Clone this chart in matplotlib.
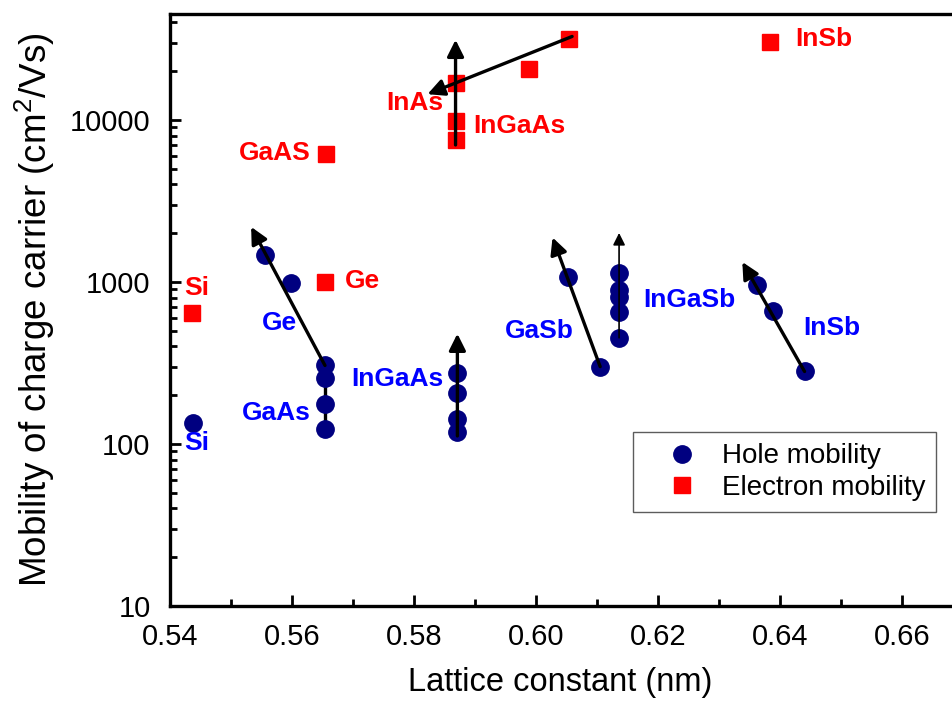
import matplotlib
matplotlib.use("Agg")
import matplotlib.pyplot as plt
from matplotlib.ticker import FixedLocator, LogLocator, FuncFormatter, NullFormatter

plt.rcParams['font.family'] = ['Liberation Sans', 'DejaVu Sans']
plt.rcParams['mathtext.fontset'] = 'custom'
plt.rcParams['mathtext.rm'] = 'Liberation Sans'
plt.rcParams['mathtext.it'] = 'Liberation Sans:italic'

# ---- data ----
hole_x = [0.5437, 0.5555, 0.5598, 0.5654, 0.5654, 0.5654, 0.5654,
          0.5871, 0.5871, 0.5871, 0.5871, 0.6052, 0.6105,
          0.6136, 0.6136, 0.6136, 0.6136, 0.6136, 0.6362, 0.6388, 0.6440]
hole_y = [135, 1475, 985, 305, 255, 177, 123,
          275, 207, 143, 119, 1072, 300,
          1142, 887, 803, 651, 452, 962, 661, 280]

elec_x = [0.5436, 0.5656, 0.5654, 0.5868, 0.5868, 0.5868, 0.5989, 0.6054, 0.6384]
elec_y = [640, 6150, 995, 17000, 9840, 7510, 20550, 31600, 30200]

# arrows: (tail_x, tail_y, head_x, head_y)
arrow_tail_x = [0.5654, 0.5871, 0.5868, 0.6059, 0.6105, 0.6440]
arrow_tail_y = [305, 112, 7000, 32700, 300, 280]
arrow_head_x = [0.5533, 0.5871, 0.5868, 0.5822, 0.6027, 0.6338]
arrow_head_y = [2185, 479, 31200, 14400, 1880, 1327]

thin_arrow_tail = (0.6136, 452)
thin_arrow_head = (0.6136, 2005)

gaas_line_x = [0.5654, 0.5654]
gaas_line_y = [120, 305]

elec_labels = ["Si", "GaAS", "Ge", "InAs", "InGaAs", "InSb"]
elec_label_x = [0.5444, 0.5572, 0.5715, 0.5802, 0.5972, 0.6472]
elec_label_y = [913, 6240, 1010, 12730, 9170, 31600]

hole_labels = ["Si", "Ge", "GaAs", "InGaAs", "GaSb", "InGaSb", "InSb"]
hole_label_x = [0.5444, 0.5579, 0.5574, 0.5772, 0.6005, 0.6251, 0.6485]
hole_label_y = [102, 554, 156, 250, 495, 769, 516]

x_ticks = [0.54, 0.56, 0.58, 0.60, 0.62, 0.64, 0.66]
y_ticks = [10, 100, 1000, 10000]

# ---- figure ----
fig = plt.figure(figsize=(9.53, 7.04), dpi=100)
ax = fig.add_axes([170/953, 1 - 606/704, 781/953, 592/704])

ax.set_yscale('log')
ax.set_xlim(0.54, 0.668)
ax.set_ylim(10, 45000)

ax.plot(gaas_line_x, gaas_line_y, color='black', lw=2.4, zorder=2)
for tx, ty, hx, hy in zip(arrow_tail_x, arrow_tail_y, arrow_head_x, arrow_head_y):
    ax.annotate('', xy=(hx, hy), xytext=(tx, ty),
                arrowprops=dict(arrowstyle='-|>', lw=2.4, color='black',
                                mutation_scale=25, shrinkA=0, shrinkB=0),
                zorder=3)
ax.annotate('', xy=thin_arrow_head, xytext=thin_arrow_tail,
            arrowprops=dict(arrowstyle='-|>', lw=1.2, color='black',
                            mutation_scale=18, shrinkA=0, shrinkB=0),
            zorder=3)

ax.plot(hole_x, hole_y, 'o', color='#000080', markersize=12.5, ls='none',
        label='Hole mobility', zorder=2)
ax.plot(elec_x, elec_y, 's', color='#ff0000', markersize=11.5, ls='none',
        label='Electron mobility', zorder=2)

for t, x, y in zip(elec_labels, elec_label_x, elec_label_y):
    ax.text(x, y, t, color='#ff0000', fontsize=19, fontweight='bold',
            ha='center', va='center', zorder=4)
for t, x, y in zip(hole_labels, hole_label_x, hole_label_y):
    ax.text(x, y, t, color='#0000ff', fontsize=19, fontweight='bold',
            ha='center', va='center', zorder=4)

ax.xaxis.set_major_locator(FixedLocator(x_ticks))
ax.xaxis.set_minor_locator(FixedLocator([0.55, 0.57, 0.59, 0.61, 0.63, 0.65, 0.67]))
ax.xaxis.set_major_formatter(FuncFormatter(lambda v, p: f"{v:.2f}"))
ax.yaxis.set_major_locator(FixedLocator(y_ticks))
ax.yaxis.set_minor_locator(LogLocator(base=10, subs=range(2, 10)))
ax.yaxis.set_major_formatter(FuncFormatter(lambda v, p: f"{v:g}"))
ax.yaxis.set_minor_formatter(NullFormatter())

ax.tick_params(axis='both', which='major', direction='in', length=8, width=2,
               labelsize=21, top=False, right=False)
ax.tick_params(axis='both', which='minor', direction='in', length=5, width=2,
               top=False, right=False)
ax.tick_params(axis='x', which='major', pad=12)
ax.tick_params(axis='y', which='major', pad=14)

for s in ['left', 'bottom', 'top']:
    ax.spines[s].set_linewidth(2.4)
ax.spines['right'].set_visible(False)

ax.set_xlabel('Lattice constant (nm)', fontsize=23.5, labelpad=12)
ax.set_ylabel('Mobility of charge carrier (cm$^2$/Vs)', fontsize=26.5, labelpad=9)

leg = ax.legend(loc='lower left', bbox_to_anchor=(633/953, 1 - 512/704),
                bbox_transform=fig.transFigure, fontsize=20, frameon=True,
                fancybox=False, edgecolor='#333333', borderpad=0.4,
                handletextpad=0.1, labelspacing=0.2, handlelength=2.7,
                borderaxespad=0)
leg.get_frame().set_linewidth(1.0)

fig.savefig('out.png', dpi=100)
